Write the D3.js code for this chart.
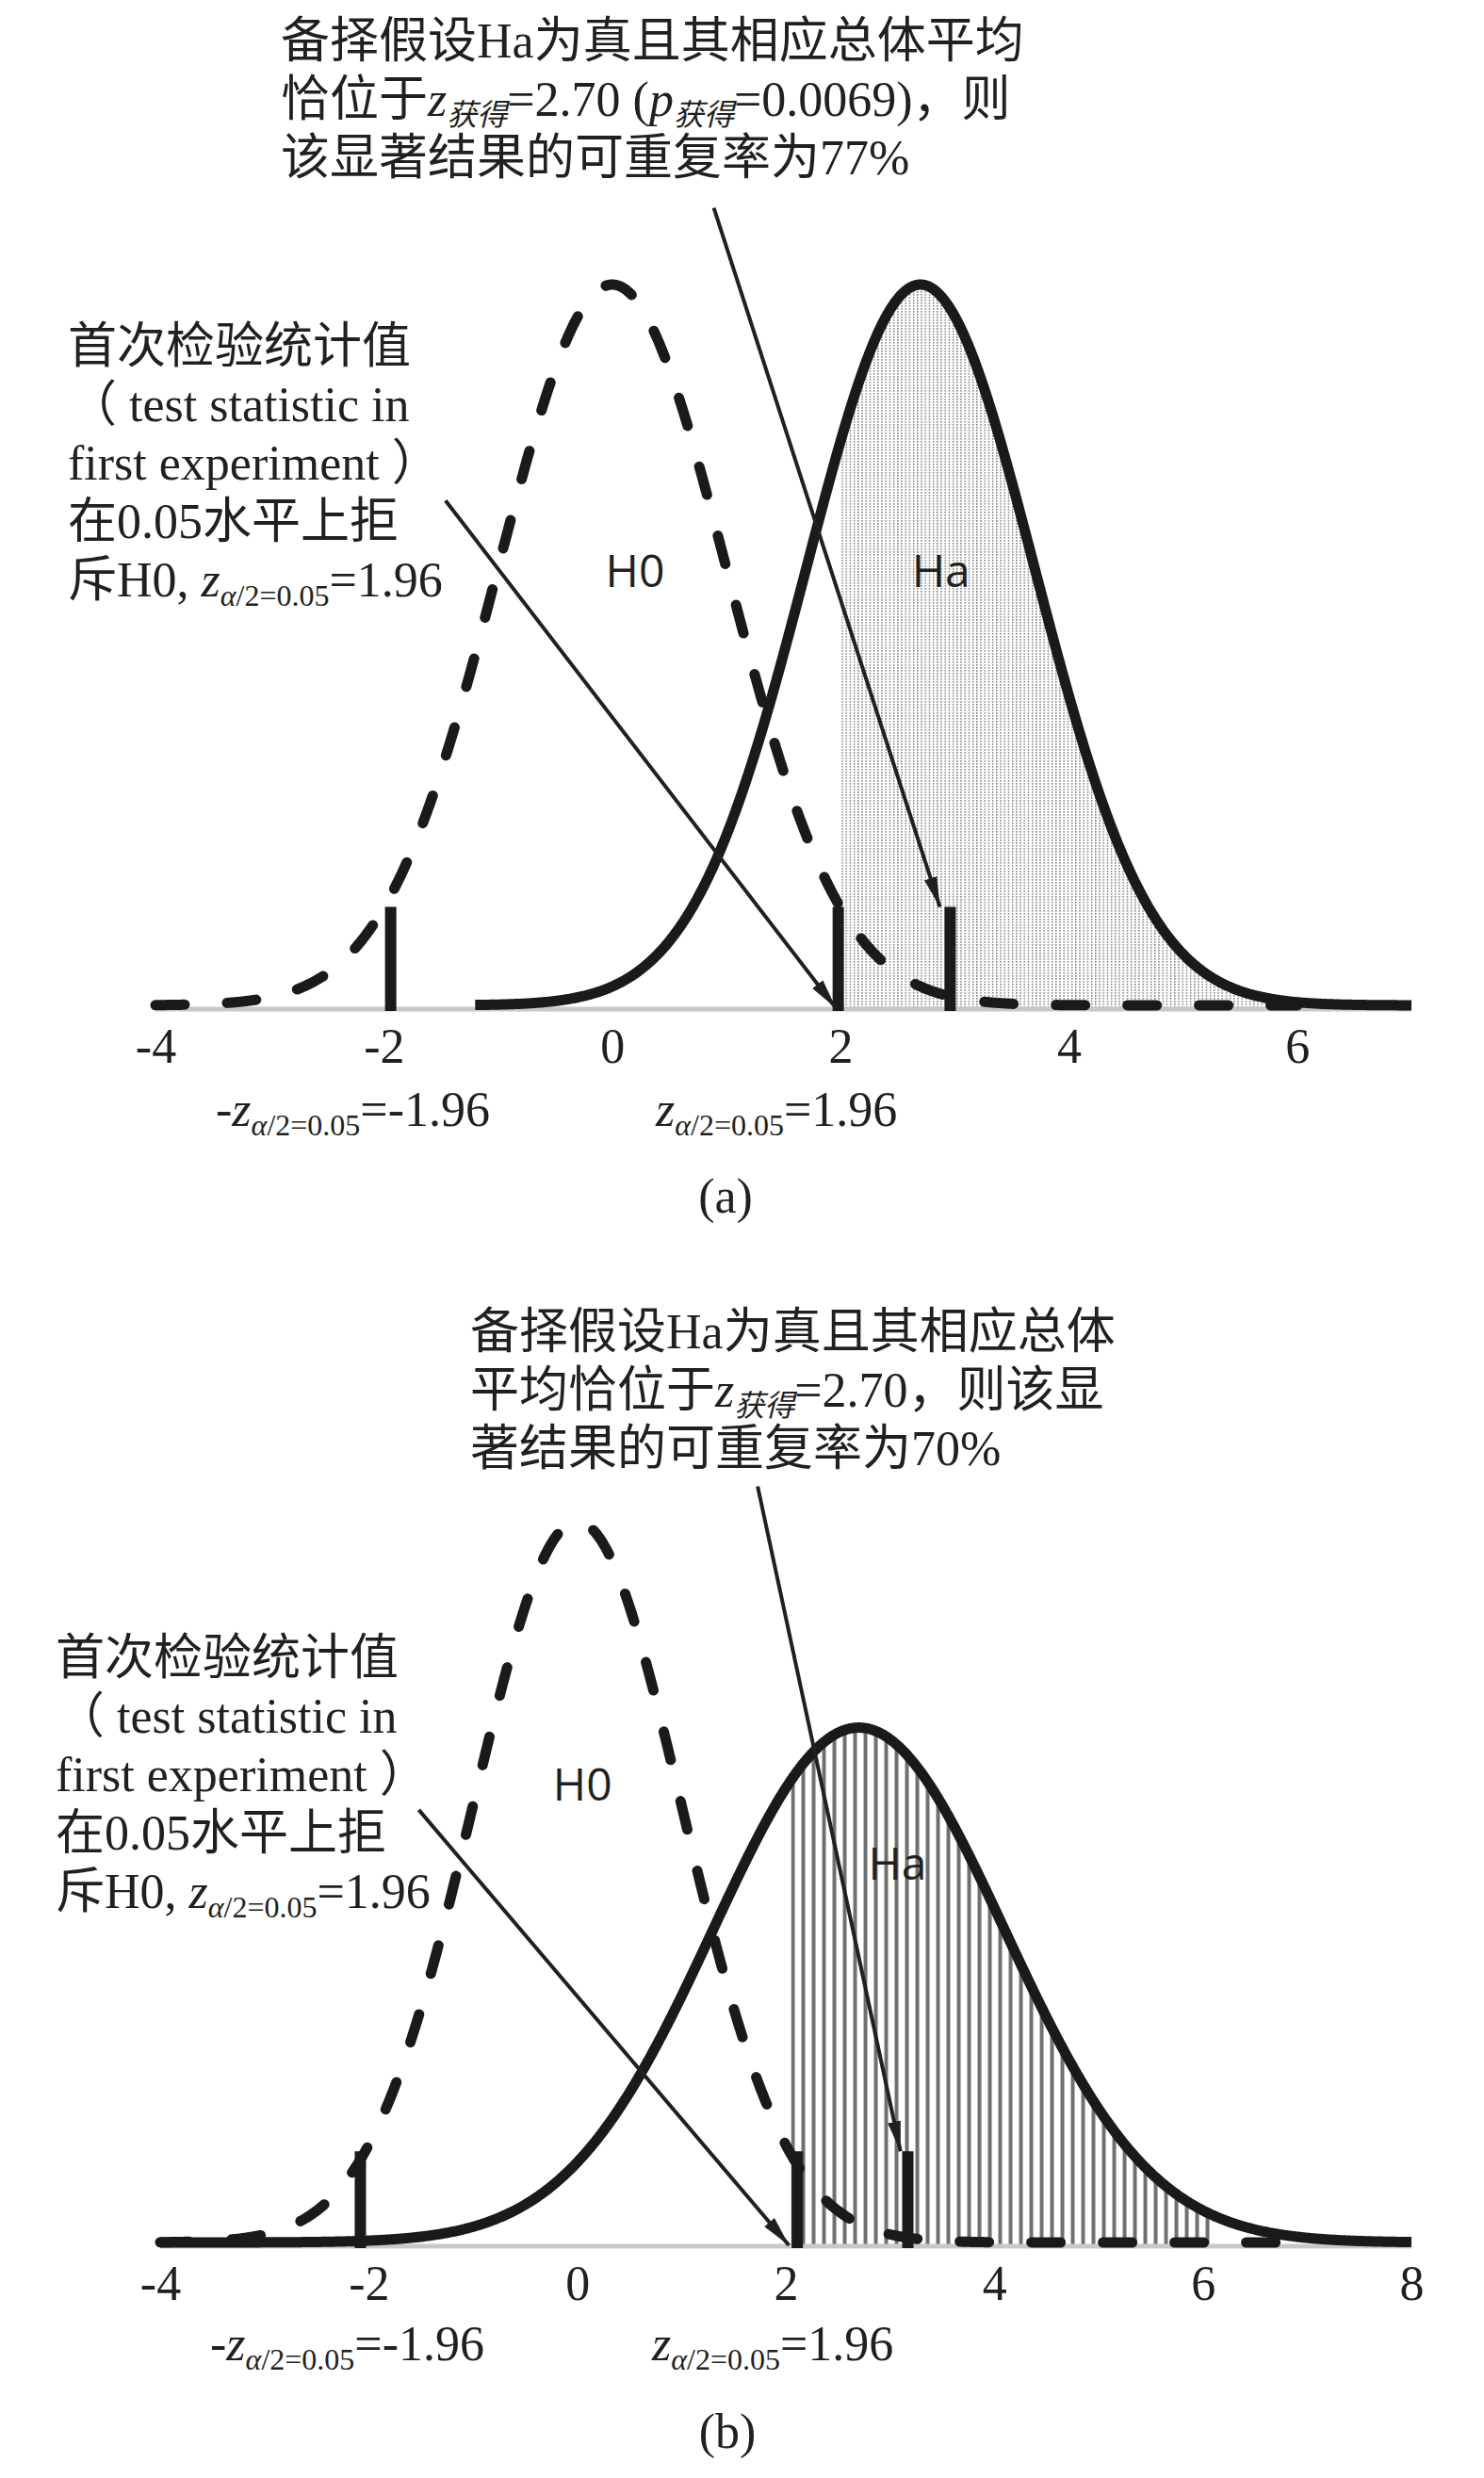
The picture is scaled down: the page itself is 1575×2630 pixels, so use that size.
<!DOCTYPE html>
<html>
<head>
<meta charset="utf-8">
<script src="https://cdn.jsdelivr.net/npm/d3@7"></script>
<style>
  body { margin: 0; background: #fff; }
</style>
</head>
<body>
<div id="chart"></div>
<script>
// 图中读出的数值 (a) / (b)
const panelNames = ["(a)", "(b)"];
const xDomains = [[-4, 7], [-4, 8]];
const tickValues = [[-4, -2, 0, 2, 4, 6], [-4, -2, 0, 2, 4, 6, 8]];
const h0Mean = [0, 0];
const h0Sd = [1, 1];
const h0Span = [[-4, 6], [-4, 7]];
const haMean = [2.7, 2.7];
const haSd = [1.0, 1.4];
const haSpan = [[-1.2, 7], [-4, 8]];
const shadeSpan = [[2.01, 6.04], [2.05, 6.09]];
const cutMarks = [[-1.94, 1.98, 2.96], [-2.08, 2.11, 3.17]];
const cutMarkTop = [0.056, 0.052];

// 文字
const topLines = [
  [
    [{t: "备择假设Ha为真且其相应总体平均"}],
    [{t: "恰位于"}, {t: "z", it: 1}, {t: "获得", sub: 1, it: 1}, {t: "=2.70 ("}, {t: "p", it: 1}, {t: "获得", sub: 1, it: 1}, {t: "=0.0069)，则"}],
    [{t: "该显著结果的可重复率为77%"}]
  ],
  [
    [{t: "备择假设Ha为真且其相应总体"}],
    [{t: "平均恰位于"}, {t: "z", it: 1}, {t: "获得", sub: 1, it: 1}, {t: "=2.70，则该显"}],
    [{t: "著结果的可重复率为70%"}]
  ]
];
const leftLines = [
  [{t: "首次检验统计值"}],
  [{t: "（ test statistic in"}],
  [{t: "first experiment ）"}],
  [{t: "在0.05水平上拒"}],
  [{t: "斥H0, "}, {t: "z", it: 1}, {t: "α", sub: 1, it: 1}, {t: "/2=0.05", sub: 1}, {t: "=1.96"}]
];
const lowerLabel = [{t: "-"}, {t: "z", it: 1}, {t: "α", sub: 1, it: 1}, {t: "/2=0.05", sub: 1}, {t: "=-1.96"}];
const upperLabel = [{t: "z", it: 1}, {t: "α", sub: 1, it: 1}, {t: "/2=0.05", sub: 1}, {t: "=1.96"}];

// 版面 (pixel layout)
const layout = [
  {xRange: [165, 1498], base: 1070, topX: 298, topY: 61, leftX: 72, leftY: 385,
   lowX: 229, upX: 696, labY: 1195, capX: 770, capY: 1287,
   arrowTop: [0.89, 0.443, 2.87, 0.056], arrowLeft: [-1.46, 0.281, 1.96, 0.0],
   h0Lab: [0.20, 0.243], haLab: [2.88, 0.243]},
  {xRange: [170, 1498], base: 2383, topX: 499, topY: 1431, leftX: 59, leftY: 1777,
   lowX: 223, upX: 692, labY: 2505, capX: 772, capY: 2598,
   arrowTop: [1.73, 0.42, 3.10, 0.052], arrowLeft: [-1.52, 0.241, 2.03, 0.0],
   h0Lab: [0.05, 0.256], haLab: [3.07, 0.212]}
];

const W = 1575, H = 2630;
const serif = "'Liberation Serif', 'Times New Roman', 'Noto Sans CJK SC', serif";
const sans = "'Liberation Sans Narrow', 'Open Sans', sans-serif";
const ink = "#231f20";
const fontSize = 52, subSize = 32, lineGap = 62;

const svg = d3.select("#chart").append("svg")
  .attr("width", W).attr("height", H)
  .attr("viewBox", `0 0 ${W} ${H}`);

const defs = svg.append("defs");
defs.append("marker")
  .attr("id", "arrowhead")
  .attr("markerUnits", "userSpaceOnUse")
  .attr("markerWidth", 34).attr("markerHeight", 18)
  .attr("refX", 32).attr("refY", 9)
  .attr("orient", "auto")
  .append("path")
  .attr("d", "M0,2 L32,9 L0,16 Z")
  .attr("fill", ink);

function pdf(v, m, s) {
  return Math.exp(-0.5 * ((v - m) / s) ** 2) / (s * Math.sqrt(2 * Math.PI));
}
function samples(span) {
  const pts = d3.range(span[0], span[1], 0.01);
  pts.push(span[1]);
  return pts;
}

// 文字 with italic / subscript parts
function richText(g, x, y, parts, size) {
  const text = g.append("text")
    .attr("x", x).attr("y", y)
    .attr("font-family", serif)
    .attr("font-size", size)
    .attr("fill", ink);
  let inSub = false;
  parts.forEach(p => {
    const ts = text.append("tspan").text(p.t);
    if (p.it) ts.attr("font-style", "italic");
    if (p.sub && !inSub) ts.attr("dy", 10);
    if (!p.sub && inSub) ts.attr("dy", -10);
    if (p.sub) ts.attr("font-size", subSize);
    inSub = !!p.sub;
  });
  return text;
}

panelNames.forEach((name, i) => {
  const L = layout[i];
  const g = svg.append("g").attr("class", "panel-" + i);

  const x = d3.scaleLinear().domain(xDomains[i]).range(L.xRange);
  const y = d3.scaleLinear().domain([0, 0.4]).range([L.base, L.base - 767]);

  // 阴影区域
  const patId = "shade" + i;
  const pat = defs.append("pattern")
    .attr("id", patId)
    .attr("patternUnits", "userSpaceOnUse")
    .attr("x", x(shadeSpan[i][0]));
  if (i === 0) {
    pat.attr("width", 4.2).attr("height", 3)
      .append("rect").attr("width", 1.4).attr("height", 1.7).attr("fill", "#7d7d7d");
  } else {
    pat.attr("width", 11).attr("height", 10)
      .append("rect").attr("width", 4).attr("height", 10).attr("fill", "#707070");
  }
  const area = d3.area()
    .x(d => x(d))
    .y0(y(0))
    .y1(d => y(pdf(d, haMean[i], haSd[i])));
  g.append("path")
    .datum(samples(shadeSpan[i]))
    .attr("d", area)
    .attr("fill", `url(#${patId})`);

  // 横轴 (gray baseline)
  g.append("line")
    .attr("x1", x(xDomains[i][0])).attr("x2", x(xDomains[i][1]))
    .attr("y1", y(0) + 1).attr("y2", y(0) + 1)
    .attr("stroke", "#c8c8c8").attr("stroke-width", 5);

  const axis = d3.axisBottom(x)
    .tickValues(tickValues[i])
    .tickSize(0)
    .tickPadding(21)
    .tickFormat(d => String(d));
  const ax = g.append("g")
    .attr("transform", `translate(0,${y(0)})`)
    .call(axis);
  ax.select(".domain").remove();
  ax.selectAll("text")
    .attr("font-family", serif)
    .attr("font-size", fontSize)
    .attr("fill", ink);

  const line = d3.line().x(d => x(d[0])).y(d => y(d[1]) - 3);

  // Ha 实线
  g.append("path")
    .datum(samples(haSpan[i]).map(v => [v, pdf(v, haMean[i], haSd[i])]))
    .attr("d", line)
    .attr("fill", "none")
    .attr("stroke", "#1a1a1a")
    .attr("stroke-width", 11)
    .attr("stroke-linejoin", "round");

  // H0 虚线
  g.append("path")
    .datum(samples(h0Span[i]).map(v => [v, pdf(v, h0Mean[i], h0Sd[i])]))
    .attr("d", line)
    .attr("fill", "none")
    .attr("stroke", "#1a1a1a")
    .attr("stroke-width", 11)
    .attr("stroke-linecap", "round")
    .attr("stroke-dasharray", "31,45");

  // 临界值标记
  g.selectAll(".cut")
    .data(cutMarks[i])
    .enter().append("line")
    .attr("class", "cut")
    .attr("x1", d => x(d)).attr("x2", d => x(d))
    .attr("y1", y(0) + 3).attr("y2", y(cutMarkTop[i]))
    .attr("stroke", "#1a1a1a")
    .attr("stroke-width", 12);

  // 箭头
  [L.arrowTop, L.arrowLeft].forEach(a => {
    g.append("line")
      .attr("x1", x(a[0])).attr("y1", y(a[1]))
      .attr("x2", x(a[2])).attr("y2", y(a[3]))
      .attr("stroke", ink)
      .attr("stroke-width", 4)
      .attr("marker-end", "url(#arrowhead)");
  });

  // H0 / Ha
  [["H0", L.h0Lab], ["Ha", L.haLab]].forEach(([lab, p]) => {
    g.append("text")
      .attr("x", x(p[0])).attr("y", y(p[1]))
      .attr("text-anchor", "middle")
      .attr("dominant-baseline", "central")
      .attr("font-family", sans)
      .attr("font-size", 48)
      .attr("fill", ink)
      .text(lab);
  });

  // 注释文字
  topLines[i].forEach((parts, k) => richText(g, L.topX, L.topY + k * lineGap, parts, fontSize));
  leftLines.forEach((parts, k) => richText(g, L.leftX, L.leftY + k * lineGap, parts, fontSize));
  richText(g, L.lowX, L.labY, lowerLabel, fontSize);
  richText(g, L.upX, L.labY, upperLabel, fontSize);

  g.append("text")
    .attr("x", L.capX).attr("y", L.capY)
    .attr("text-anchor", "middle")
    .attr("font-family", serif)
    .attr("font-size", fontSize)
    .attr("fill", ink)
    .text(name);
});
</script>
</body>
</html>
